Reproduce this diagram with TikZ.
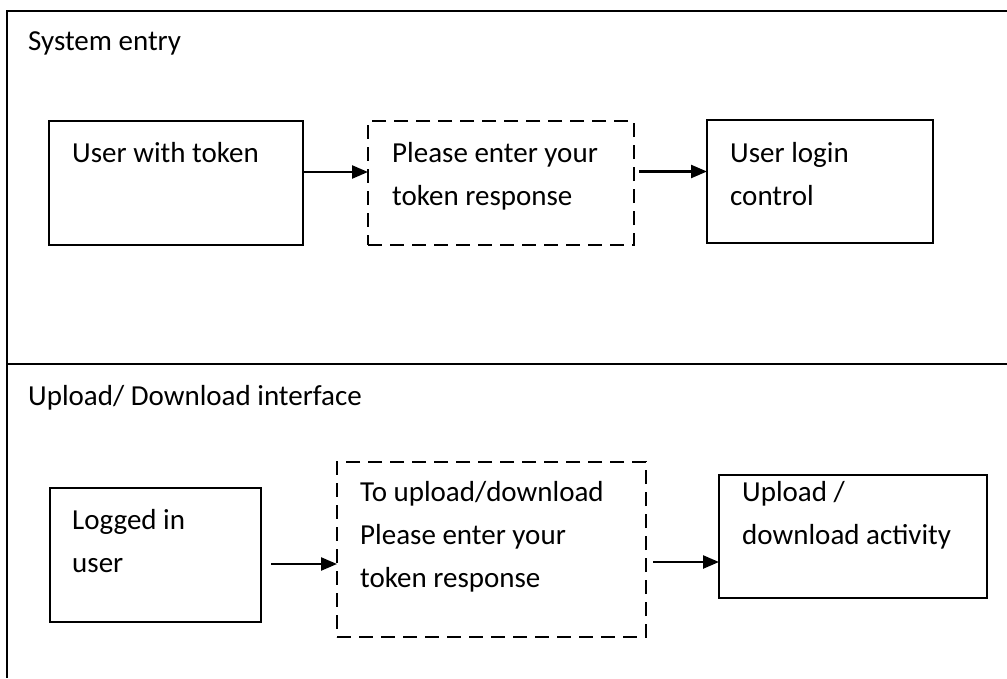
\documentclass[tikz,border=0pt]{standalone}
\usepackage{fontspec}
\setmainfont{Carlito}
\usetikzlibrary{arrows.meta}

\tikzset{
  box/.style={draw=black, line width=2.8pt, inner sep=0pt, outer sep=0pt, fill=white},
  dbox/.style={box, line width=2.6pt, dash pattern=on 14pt off 8pt},
  % multi-line labels are placed by the baseline of their last line
  txt/.style={anchor=base west, inner sep=0pt, align=left,
              font=\fontsize{29}{43}\selectfont},
  arr/.style={line width=2.4pt, -{Triangle[length=16pt,width=13pt]}},
  frame/.style={line width=2.4pt}
}

\begin{document}
\begin{tikzpicture}[x=1pt, y=-1pt]
  \useasboundingbox (0,0) rectangle (1007,678);

  % outer frame and section divider
  \coordinate (tl) at (7,11);
  \coordinate (tr) at (1007,11);
  \coordinate (bl) at (7,678);
  \coordinate (ml) at (7,364);
  \coordinate (mr) at (1007,364);
  \draw[frame] (tr) -- (tl) -- (bl);
  \draw[frame] (ml) -- (mr);

  % section titles
  \node[txt] (h1) at (28,50) {System entry};
  \node[txt] (h2) at (28,405) {Upload/ Download interface};

  % system entry row
  \node[box, minimum width=254pt, minimum height=124pt] (b1) at (176,183) {};
  \node[dbox, minimum width=266pt, minimum height=124pt] (b2) at (501,183) {};
  \node[box, minimum width=226pt, minimum height=123pt] (b3) at (820,181.5) {};
  \node[txt] (t1) at (72,162) {User with token};
  \node[txt] (t2) at (392,205) {Please enter your\\token response};
  \node[txt] (t3) at (730,205) {User login\\control};

  \draw[arr] ([yshift=11pt]b1.east) -- ([yshift=11pt]b2.west);
  \draw[arr, shorten <=5pt] ([yshift=11.5pt]b2.east) -- ([yshift=10pt]b3.west);

  % upload / download row
  \node[box, minimum width=211pt, minimum height=134pt] (b4) at (155.5,555) {};
  \node[dbox, minimum width=309pt, minimum height=175pt] (b5) at (491.5,549.5) {};
  \node[box, minimum width=268pt, minimum height=123pt] (b6) at (853,536.5) {};
  \node[txt] (t4) at (72,572) {Logged in\\user};
  \node[txt] (t5) at (360,587) {To upload/download\\Please enter your\\token response};
  \node[txt] (t6) at (742,544) {Upload /\\download activity};

  \draw[arr, shorten <=10pt] ([yshift=-9pt]b4.east) -- ([yshift=-14.5pt]b5.west);
  \draw[arr, shorten <=7pt] ([yshift=-12.5pt]b5.east) -- ([yshift=-25.5pt]b6.west);
\end{tikzpicture}
\end{document}
